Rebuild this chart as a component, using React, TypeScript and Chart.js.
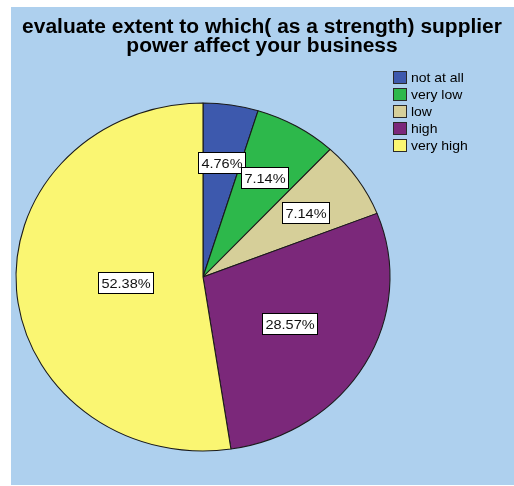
import React, { useEffect, useRef } from "react";
import { Chart, registerables } from "chart.js";

Chart.register(...registerables);

const TITLE_LINES = [
  "evaluate extent to which( as a strength) supplier",
  "power affect your business",
];
const CATEGORIES = ["not at all", "very low", "low", "high", "very high"];
const PERCENTS = [4.76, 7.14, 7.14, 28.57, 52.38];
const COLORS = ["#3D59AD", "#2DB84B", "#D6CF99", "#7B287A", "#FAF672"];
// style: radial nudge of each slice label relative to the slice centroid
const LABEL_RADIAL_NUDGE = [1, 1, 1, 0.92, 1.03];

const W = 503;
const H = 478;
const X_STRETCH = 187 / 174;
const FONT = '"Liberation Sans", Arial, sans-serif';

function stretchedText(
  ctx: CanvasRenderingContext2D,
  text: string,
  x: number,
  y: number
) {
  ctx.save();
  ctx.translate(x, y);
  ctx.scale(X_STRETCH, 1);
  ctx.fillText(text, 0, 0);
  ctx.restore();
}

const ellipsePlugin = {
  id: "ellipseAndDecor",
  beforeDatasetsDraw(chart: any) {
    const el = chart.getDatasetMeta(0).data[0];
    const { x, y } = el;
    const ctx = chart.ctx;
    ctx.save();
    ctx.translate(x, y);
    ctx.scale(X_STRETCH, 1);
    ctx.translate(-x, -y);
  },
  afterDatasetsDraw(chart: any) {
    const ctx = chart.ctx as CanvasRenderingContext2D;
    ctx.restore();
    const meta = chart.getDatasetMeta(0);
    ctx.save();
    ctx.font = `13.5px ${FONT}`;
    ctx.textAlign = "center";
    ctx.textBaseline = "middle";
    meta.data.forEach((el: any, i: number) => {
      const { x, y, startAngle, endAngle, outerRadius } = el.getProps(
        ["x", "y", "startAngle", "endAngle", "outerRadius"],
        true
      );
      const half = (endAngle - startAngle) / 2;
      const mid = startAngle + half;
      const d =
        (half > 0 ? (2 * outerRadius * Math.sin(half)) / (3 * half) : 0) *
        LABEL_RADIAL_NUDGE[i];
      const lx = x + Math.cos(mid) * d * X_STRETCH;
      const ly = y + Math.sin(mid) * d;
      const text = PERCENTS[i].toFixed(2) + "%";
      const tw = ctx.measureText(text).width * X_STRETCH;
      const bw = Math.round(tw + 6);
      const bh = 21;
      const bx = Math.round(lx - bw / 2) + 0.5;
      const by = Math.round(ly - bh / 2) + 0.5;
      ctx.fillStyle = "#ffffff";
      ctx.fillRect(bx, by, bw, bh);
      ctx.strokeStyle = "#000000";
      ctx.lineWidth = 1;
      ctx.strokeRect(bx, by, bw, bh);
      ctx.fillStyle = "#111111";
      stretchedText(ctx, text, bx + bw / 2, by + bh / 2 + 1);
    });
    ctx.restore();
  },
  afterDraw(chart: any) {
    const ctx = chart.ctx as CanvasRenderingContext2D;
    ctx.save();
    // title
    ctx.fillStyle = "#000000";
    ctx.font = `bold 19.5px ${FONT}`;
    ctx.textAlign = "center";
    ctx.textBaseline = "alphabetic";
    stretchedText(ctx, TITLE_LINES[0], 251, 26);
    stretchedText(ctx, TITLE_LINES[1], 251, 45);
    // legend
    ctx.font = `13px ${FONT}`;
    ctx.textAlign = "left";
    ctx.textBaseline = "middle";
    CATEGORIES.forEach((lab, i) => {
      const bx = 382.5;
      const by = 64.5 + i * 17;
      ctx.fillStyle = COLORS[i];
      ctx.fillRect(bx, by, 13, 12);
      ctx.strokeStyle = "#2a2a2a";
      ctx.lineWidth = 1;
      ctx.strokeRect(bx, by, 13, 12);
      ctx.fillStyle = "#000000";
      stretchedText(ctx, lab, 400, by + 6.5);
    });
    ctx.restore();
  },
};

export default function App() {
  const ref = useRef<HTMLCanvasElement | null>(null);
  useEffect(() => {
    if (!ref.current) return;
    const chart = new Chart(ref.current, {
      type: "pie",
      data: {
        labels: CATEGORIES,
        datasets: [
          {
            data: PERCENTS,
            backgroundColor: COLORS,
            borderColor: "#1a1a1a",
            borderWidth: 1,
            clip: false as any,
          },
        ],
      },
      options: {
        responsive: false,
        animation: false,
        events: [],
        radius: 174,
        layout: { padding: { left: 0, right: 119, top: 62, bottom: 0 } },
        plugins: {
          legend: { display: false },
          title: { display: false },
          tooltip: { enabled: false },
        },
      } as any,
      plugins: [ellipsePlugin],
    });
    return () => chart.destroy();
  }, []);
  return (
    <div
      style={{
        position: "absolute",
        left: 11,
        top: 7,
        width: W,
        height: H,
        background: "#AED0EE",
      }}
    >
      <canvas ref={ref} width={W} height={H} style={{ display: "block" }} />
    </div>
  );
}
